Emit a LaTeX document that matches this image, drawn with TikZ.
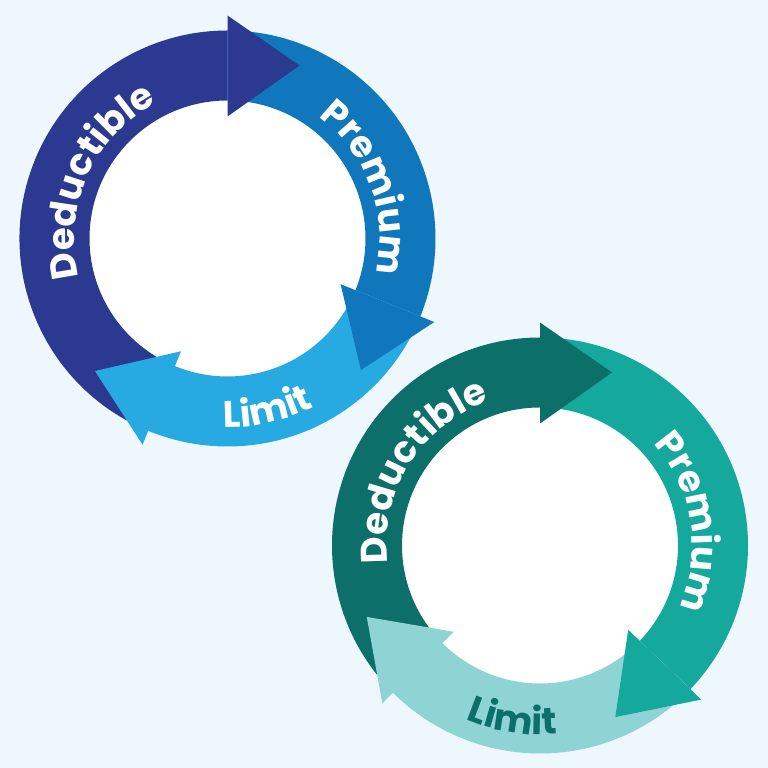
\documentclass[tikz,border=0pt]{standalone}
\usepackage{fontspec}
\setmainfont{Poppins}
\usetikzlibrary{decorations.text}

\definecolor{bgblue}{HTML}{EEF7FD}
\definecolor{dedblue}{HTML}{2B3990}
\definecolor{premblue}{HTML}{1177BD}
\definecolor{limblue}{HTML}{27AAE1}
\definecolor{dedteal}{HTML}{0D6F69}
\definecolor{premteal}{HTML}{15A89C}
\definecolor{limteal}{HTML}{8FD4D5}

\newcommand{\labelfont}{\bfseries\fontsize{37}{37}\selectfont}

\begin{document}
\begin{tikzpicture}[x=1pt, y=1pt,
        outtext/.style={decorate, decoration={text along path, text align=center, text color=white, text={|\labelfont|#1}}},
        intext/.style 2 args={decorate, decoration={text along path, text align=center, text color=#2, text={|\labelfont|#1}}}
    ]

    % Background
    \fill[bgblue] (0,0) rectangle (768,768);
    \useasboundingbox (0,0) rectangle (768,768);

    % Upper cycle
    \begin{scope}[shift={(227.5,529.5)}]
    \fill[white] (0,0) circle[radius=140];
    \foreach \a/\b/\c in {247.6/90/dedblue, 90/-22/premblue, -22/-112.4/limblue}
        \fill[\c] (\a:208) arc[start angle=\a, end angle=\b, radius=208] -- (\b:138) arc[start angle=\b, end angle=\a, radius=138] -- cycle;
    \foreach \b/\c in {90/dedblue, -22/premblue, -112.4/limblue}
        \fill[\c] (\b:122) -- (\b:223) -- (\b-22.6:187.4) -- cycle;
    \path[outtext=Deductible] (236:153) arc[start angle=236, end angle=76, radius=153];
    \path[outtext=Premium] (100:152) arc[start angle=100, end angle=-60, radius=152];
    \path[intext={Limit}{white}] (223:189) arc[start angle=223, end angle=343, radius=189];
    \end{scope}

    % Lower cycle
    \begin{scope}[shift={(540,222.5)}]
    \fill[white] (0,0) circle[radius=140];
    \foreach \a/\b/\c in {225/90/dedteal, 90/-43.7/premteal, -43.7/-135/limteal}
        \fill[\c] (\a:208) arc[start angle=\a, end angle=\b, radius=208] -- (\b:138) arc[start angle=\b, end angle=\a, radius=138] -- cycle;
    \foreach \b/\c in {90/dedteal, -43.7/premteal, -135/limteal}
        \fill[\c] (\b:122) -- (\b:223) -- (\b-22.6:187.4) -- cycle;
    \path[outtext=Deductible] (228:153) arc[start angle=228, end angle=68, radius=153];
    \path[outtext=Premium] (89:152) arc[start angle=89, end angle=-71, radius=152];
    \path[intext={Limit}{dedteal}] (201:189) arc[start angle=201, end angle=321, radius=189];
    \end{scope}

\end{tikzpicture}
\end{document}
